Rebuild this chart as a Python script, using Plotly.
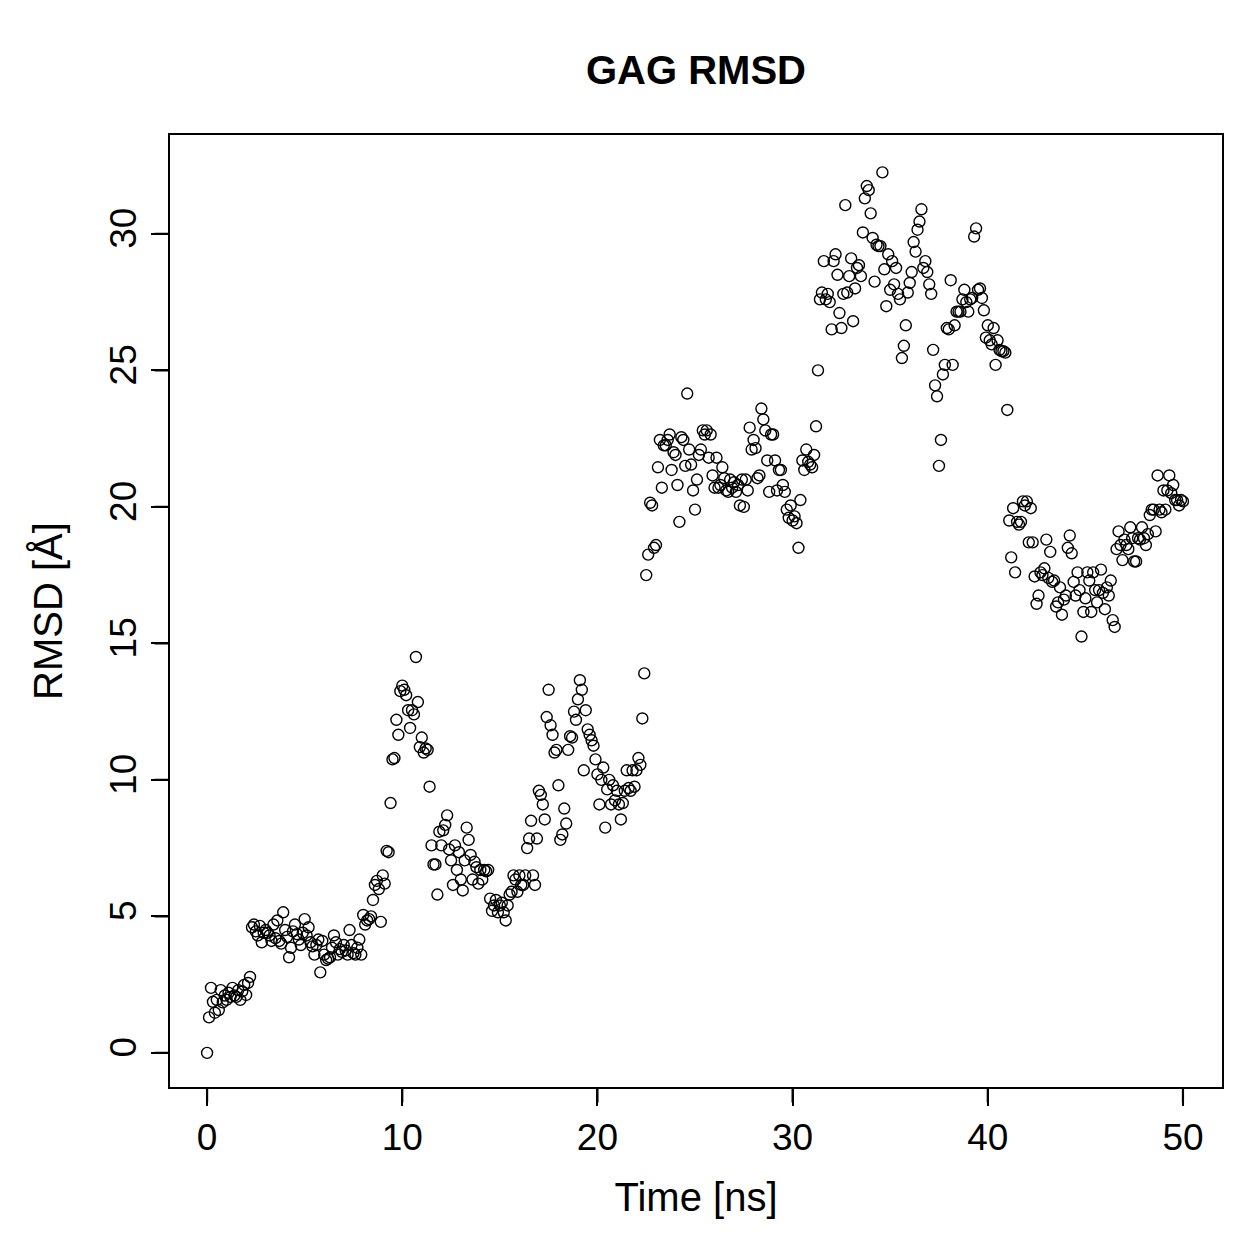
import plotly.graph_objects as go

rmsd_00_09 = [0.00, 1.30, 2.38, 1.87, 1.47, 1.94, 1.57, 2.30, 1.85, 2.10]
rmsd_01 = [1.94, 2.20, 2.05, 2.38, 2.10, 2.05, 2.30, 1.94, 2.25, 2.49]
rmsd_02 = [2.12, 2.56, 2.78, 4.60, 4.70, 4.45, 4.30, 4.65, 4.05, 4.40]
rmsd_03 = [4.50, 4.40, 4.30, 4.10, 4.70, 4.20, 4.85, 4.10, 4.00, 5.15]
rmsd_04 = [4.50, 4.25, 3.50, 3.85, 4.45, 4.70, 4.35, 4.15, 3.95, 4.40]
rmsd_05 = [4.90, 4.30, 4.60, 4.05, 3.90, 3.60, 3.95, 4.15, 2.95, 4.10]
rmsd_06 = [3.60, 3.40, 3.45, 3.50, 3.85, 4.30, 4.05, 3.60, 3.80, 3.70]
rmsd_07 = [3.95, 3.75, 3.60, 4.50, 3.95, 3.65, 3.60, 3.85, 4.15, 3.60]
rmsd_08 = [5.05, 4.70, 4.85, 4.90, 5.00, 5.60, 6.15, 6.30, 6.00, 4.80]
rmsd_09 = [6.50, 6.20, 7.40, 7.35, 9.15, 10.75, 10.80, 12.20, 11.65, 13.25]
rmsd_10 = [13.45, 13.30, 13.10, 12.55, 11.90, 12.55, 12.40, 14.50, 12.85, 11.20]
rmsd_11 = [11.55, 11.00, 11.15, 11.10, 9.75, 7.60, 6.90, 6.90, 5.80, 8.10]
rmsd_12 = [7.60, 8.15, 8.35, 8.70, 7.45, 7.05, 6.15, 7.60, 6.70, 7.35]
rmsd_13 = [6.35, 5.95, 7.05, 8.25, 7.80, 7.25, 6.35, 7.00, 6.80, 6.20]
rmsd_14 = [6.70, 6.35, 6.70, 6.65, 6.70, 5.65, 5.20, 5.40, 5.60, 5.15]
rmsd_15 = [5.40, 5.50, 5.15, 4.85, 5.40, 5.80, 5.90, 6.50, 6.35, 5.90]
rmsd_16 = [6.50, 6.15, 6.15, 6.50, 7.50, 7.85, 8.50, 6.50, 6.15, 7.85]
rmsd_17 = [9.60, 9.45, 9.10, 8.55, 12.30, 13.30, 12.00, 11.65, 11.00, 11.10]
rmsd_18 = [9.80, 7.80, 8.00, 8.95, 8.40, 11.10, 11.60, 11.55, 12.50, 12.20]
rmsd_19 = [12.95, 13.65, 13.30, 10.35, 12.55, 11.85, 11.65, 11.45, 11.25, 10.75]
rmsd_20 = [10.20, 9.10, 10.00, 10.45, 8.25, 9.65, 10.00, 9.10, 9.80, 9.25]
rmsd_21 = [9.60, 9.10, 8.55, 9.15, 9.60, 10.35, 9.70, 9.60, 10.35, 9.75]
rmsd_22 = [10.35, 10.80, 10.55, 12.25, 13.90, 17.50, 18.25, 20.15, 20.05, 18.50]
rmsd_23 = [18.60, 21.45, 22.45, 20.70, 22.25, 22.25, 22.45, 22.65, 21.35, 22.00]
rmsd_24 = [21.90, 20.80, 19.45, 22.55, 22.45, 21.50, 24.15, 22.10, 21.55, 20.60]
rmsd_25 = [19.90, 21.00, 21.90, 22.10, 22.80, 22.65, 22.80, 21.80, 22.65, 21.15]
rmsd_26 = [20.70, 21.80, 20.70, 20.80, 21.45, 21.05, 20.60, 20.55, 21.00, 20.70]
rmsd_27 = [20.90, 20.55, 20.80, 20.05, 21.00, 20.00, 21.00, 20.60, 22.90, 22.10]
rmsd_28 = [22.45, 22.15, 21.05, 21.15, 23.60, 23.20, 22.80, 21.70, 20.55, 22.65]
rmsd_29 = [22.65, 21.70, 20.60, 21.35, 21.35, 20.80, 20.55, 19.90, 19.60, 20.05]
rmsd_30 = [19.50, 19.65, 19.40, 18.50, 20.25, 21.70, 21.35, 22.10, 21.65, 21.55]
rmsd_31 = [21.45, 21.90, 22.95, 25.00, 27.60, 27.85, 29.00, 27.60, 27.80, 27.50]
rmsd_32 = [26.50, 29.00, 29.25, 28.50, 27.10, 26.55, 27.80, 31.05, 27.85, 28.45]
rmsd_33 = [29.10, 26.80, 28.00, 28.75, 28.85, 28.45, 30.05, 31.30, 31.75, 31.60]
rmsd_34 = [30.75, 29.85, 28.25, 29.60, 29.55, 29.55, 32.25, 28.70, 27.35, 29.25]
rmsd_35 = [27.95, 29.00, 28.15, 28.75, 27.80, 27.60, 25.45, 25.90, 26.65, 27.85]
rmsd_36 = [28.20, 28.60, 29.70, 29.35, 30.15, 30.45, 30.90, 28.75, 29.00, 28.60]
rmsd_37 = [28.15, 27.80, 25.75, 24.45, 24.05, 21.50, 22.45, 24.85, 25.20, 26.55]
rmsd_38 = [26.50, 28.30, 25.20, 26.65, 27.15, 27.15, 27.15, 27.60, 27.95, 27.50]
rmsd_39 = [27.15, 27.60, 27.65, 29.90, 30.20, 27.95, 28.00, 27.65, 27.20, 26.20]
rmsd_40 = [26.65, 26.10, 25.95, 26.55, 25.20, 26.10, 25.75, 25.70, 25.70, 25.65]
rmsd_41 = [23.55, 19.50, 18.15, 19.95, 17.60, 19.45, 19.35, 19.45, 20.20, 20.05]
rmsd_42 = [20.20, 18.70, 19.95, 18.70, 17.45, 16.45, 16.75, 17.60, 17.50, 17.75]
rmsd_43 = [18.80, 17.40, 18.35, 17.25, 17.30, 16.35, 16.50, 17.05, 16.05, 16.60]
rmsd_44 = [16.75, 18.50, 18.95, 18.30, 17.25, 16.75, 17.60, 16.95, 15.25, 16.15]
rmsd_45 = [16.65, 17.60, 17.30, 16.15, 17.60, 16.95, 16.50, 16.95, 17.70, 16.85]
rmsd_46 = [16.25, 17.05, 16.75, 17.30, 15.85, 15.60, 18.45, 19.10, 18.60, 18.05]
rmsd_47 = [18.80, 18.60, 18.45, 19.25, 18.85, 18.00, 18.00, 18.85, 18.80, 19.25]
rmsd_48 = [18.85, 18.60, 19.00, 19.70, 19.90, 19.90, 19.10, 21.15, 19.90, 19.80]
rmsd_49 = [20.60, 19.90, 20.60, 21.15, 20.50, 20.80, 20.25, 20.25, 20.05, 20.25]
rmsd_50 = [20.20]

rmsd = (rmsd_00_09 + rmsd_01 + rmsd_02 + rmsd_03 + rmsd_04 + rmsd_05 + rmsd_06 +
        rmsd_07 + rmsd_08 + rmsd_09 + rmsd_10 + rmsd_11 + rmsd_12 + rmsd_13 +
        rmsd_14 + rmsd_15 + rmsd_16 + rmsd_17 + rmsd_18 + rmsd_19 + rmsd_20 +
        rmsd_21 + rmsd_22 + rmsd_23 + rmsd_24 + rmsd_25 + rmsd_26 + rmsd_27 +
        rmsd_28 + rmsd_29 + rmsd_30 + rmsd_31 + rmsd_32 + rmsd_33 + rmsd_34 +
        rmsd_35 + rmsd_36 + rmsd_37 + rmsd_38 + rmsd_39 + rmsd_40 + rmsd_41 +
        rmsd_42 + rmsd_43 + rmsd_44 + rmsd_45 + rmsd_46 + rmsd_47 + rmsd_48 +
        rmsd_49 + rmsd_50)

time_step_ns = 0.1
time_ns = [round(i * time_step_ns, 1) for i in range(len(rmsd))]

x_ticks = [0, 10, 20, 30, 40, 50]
y_ticks = [0, 5, 10, 15, 20, 25, 30]

FONT = "Liberation Sans, Arial, Helvetica, sans-serif"
TICK_LEN = 17
TICK_W = 2.2

W, H = 1259, 1259
M_L, M_R, M_T, M_B = 170, 37, 135, 172
X_RANGE = [-1.9, 52.0]
Y_RANGE = [-1.25, 33.62]

fig = go.Figure()
fig.add_trace(go.Scatter(
    x=time_ns, y=rmsd, mode="markers",
    marker=dict(symbol="circle-open", size=11, color="black",
                line=dict(color="black", width=1.4)),
    showlegend=False, hoverinfo="x+y",
))

fig.update_xaxes(
    range=X_RANGE, tickmode="array", tickvals=x_ticks,
    showline=True, linecolor="black", linewidth=2, mirror=True,
    ticks="outside", ticklen=TICK_LEN, tickwidth=TICK_W, tickcolor="#000000",
    showgrid=False, zeroline=False,
    tickfont=dict(family=FONT, size=37, color="black"),
    title=dict(text="Time [ns]", standoff=26,
               font=dict(family=FONT, size=40, color="black")),
)
fig.update_yaxes(
    range=Y_RANGE, tickmode="array", tickvals=y_ticks,
    showline=True, linecolor="black", linewidth=2, mirror=True,
    ticks="outside", ticklen=TICK_LEN, tickwidth=TICK_W, tickcolor="#000000",
    showgrid=False, zeroline=False, tickangle=-90,
    tickfont=dict(family=FONT, size=37, color="black"),
    title=dict(text="RMSD [Å]", standoff=28,
               font=dict(family=FONT, size=40, color="black")),
)

# Tick marks drawn as arrow stubs (pixel offsets from the axis edge)
for v in x_ticks:
    fig.add_annotation(x=v, y=0, xref="x", yref="paper", text="",
                       showarrow=True, arrowhead=0, arrowwidth=TICK_W,
                       arrowcolor="black", ax=0, ay=TICK_LEN,
                       axref="pixel", ayref="pixel", standoff=0, startstandoff=0)
for v in y_ticks:
    fig.add_annotation(x=0, y=v, xref="paper", yref="y", text="",
                       showarrow=True, arrowhead=0, arrowwidth=TICK_W,
                       arrowcolor="black", ax=-TICK_LEN, ay=0,
                       axref="pixel", ayref="pixel", standoff=0, startstandoff=0)

fig.update_layout(
    template="simple_white",
    width=W, height=H,
    margin=dict(l=M_L, r=M_R, t=M_T, b=M_B),
    paper_bgcolor="white", plot_bgcolor="white",
    font=dict(family=FONT, color="black"),
    title=dict(text="<b>GAG RMSD</b>", x=0.5, xref="paper", xanchor="center",
               y=1 - 70 / H, yref="container", yanchor="middle",
               font=dict(family=FONT, size=40, color="black")),
)

fig.write_html("out.html")
